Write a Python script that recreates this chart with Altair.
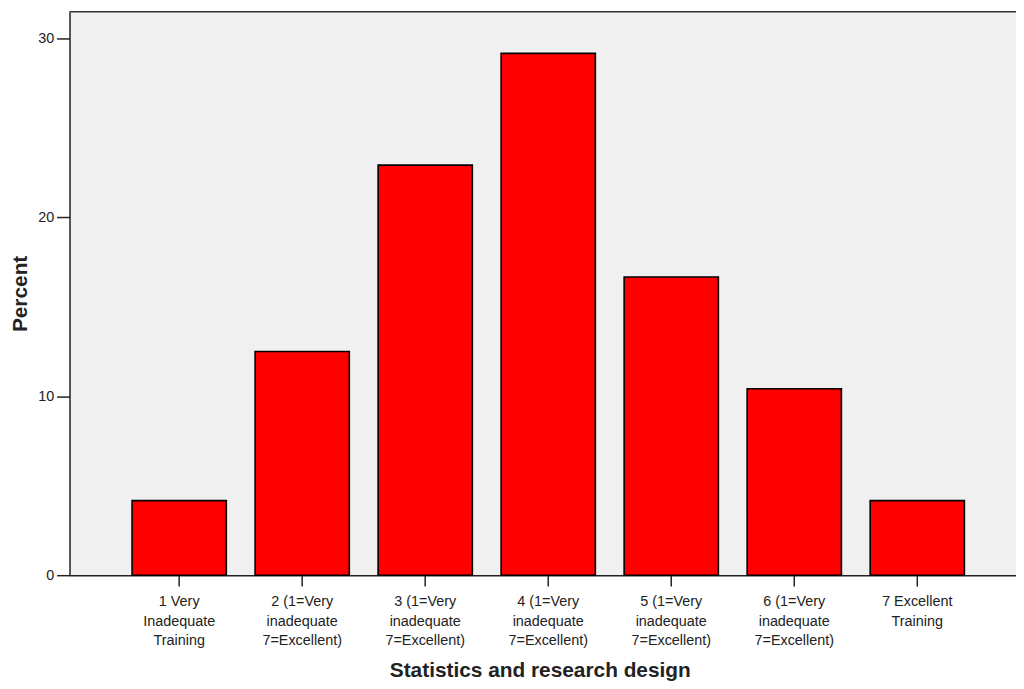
import altair as alt
import pandas as pd

categories = [
    "1 Very\nInadequate\nTraining",
    "2 (1=Very\ninadequate\n7=Excellent)",
    "3 (1=Very\ninadequate\n7=Excellent)",
    "4 (1=Very\ninadequate\n7=Excellent)",
    "5 (1=Very\ninadequate\n7=Excellent)",
    "6 (1=Very\ninadequate\n7=Excellent)",
    "7 Excellent\nTraining",
]
percents = [4.17, 12.50, 22.92, 29.17, 16.67, 10.42, 4.17]
y_ticks = [0, 10, 20, 30]

df = pd.DataFrame({"category": categories, "percent": percents})

W = 954
H = 568

title_font = "Liberation Sans, Arial, sans-serif"
label_font = "Liberation Sans, Arial, sans-serif"

bars = alt.Chart(df).mark_bar(
    color="#ff0000", stroke="#000000", strokeWidth=1.6
).encode(
    x=alt.X(
        "category:N",
        sort=None,
        title="Statistics and research design",
        scale=alt.Scale(paddingInner=0.234, paddingOuter=0.464, align=0.548),
        axis=alt.Axis(
            labelAngle=0,
            labelExpr="split(datum.label, '\\n')",
            labelFont=label_font,
            labelFontSize=14.5,
            labelLineHeight=19.5,
            labelPadding=9,
            labelColor="#222222",
            labelBaseline="top",
            tickSize=11,
            titleFont=title_font,
            titleFontSize=21,
            titleFontWeight="bold",
            titleColor="#222222",
            titleX=474,
            titleY=102,
            titleAlign="center",
            titleBaseline="alphabetic",
        ),
    ),
    y=alt.Y(
        "percent:Q",
        title="Percent",
        scale=alt.Scale(domain=[0, 31.5], nice=False),
        axis=alt.Axis(
            values=y_ticks,
            grid=False,
            labelFont=label_font,
            labelFontSize=14.5,
            labelPadding=3,
            labelColor="#222222",
            tickSize=13,
            titleFont=title_font,
            titleFontSize=21,
            titleFontWeight="bold",
            titleColor="#222222",
            titleAngle=-90,
            titleX=-49,
            titleY=H / 2,
            titleAlign="center",
            titleBaseline="middle",
        ),
    ),
)

top_border = alt.Chart(pd.DataFrame({"b": [0]})).mark_rule(
    color="#333333", strokeWidth=1.5
).encode(y=alt.value(0), x=alt.value(0), x2=alt.value(W))

chart = (
    alt.layer(bars, top_border)
    .properties(
        width=W,
        height=H,
        autosize=alt.AutoSizeParams(type="none"),
        padding={"left": 62, "top": 1, "right": 0, "bottom": 108},
        background="#ffffff",
    )
    .configure_view(fill="#f0f0f0", stroke=None)
    .configure_axis(
        domainColor="#222222",
        domainWidth=1.5,
        tickColor="#222222",
        tickWidth=1.5,
    )
)

chart.save("out.html", embed_options={"renderer": "svg", "actions": False})
